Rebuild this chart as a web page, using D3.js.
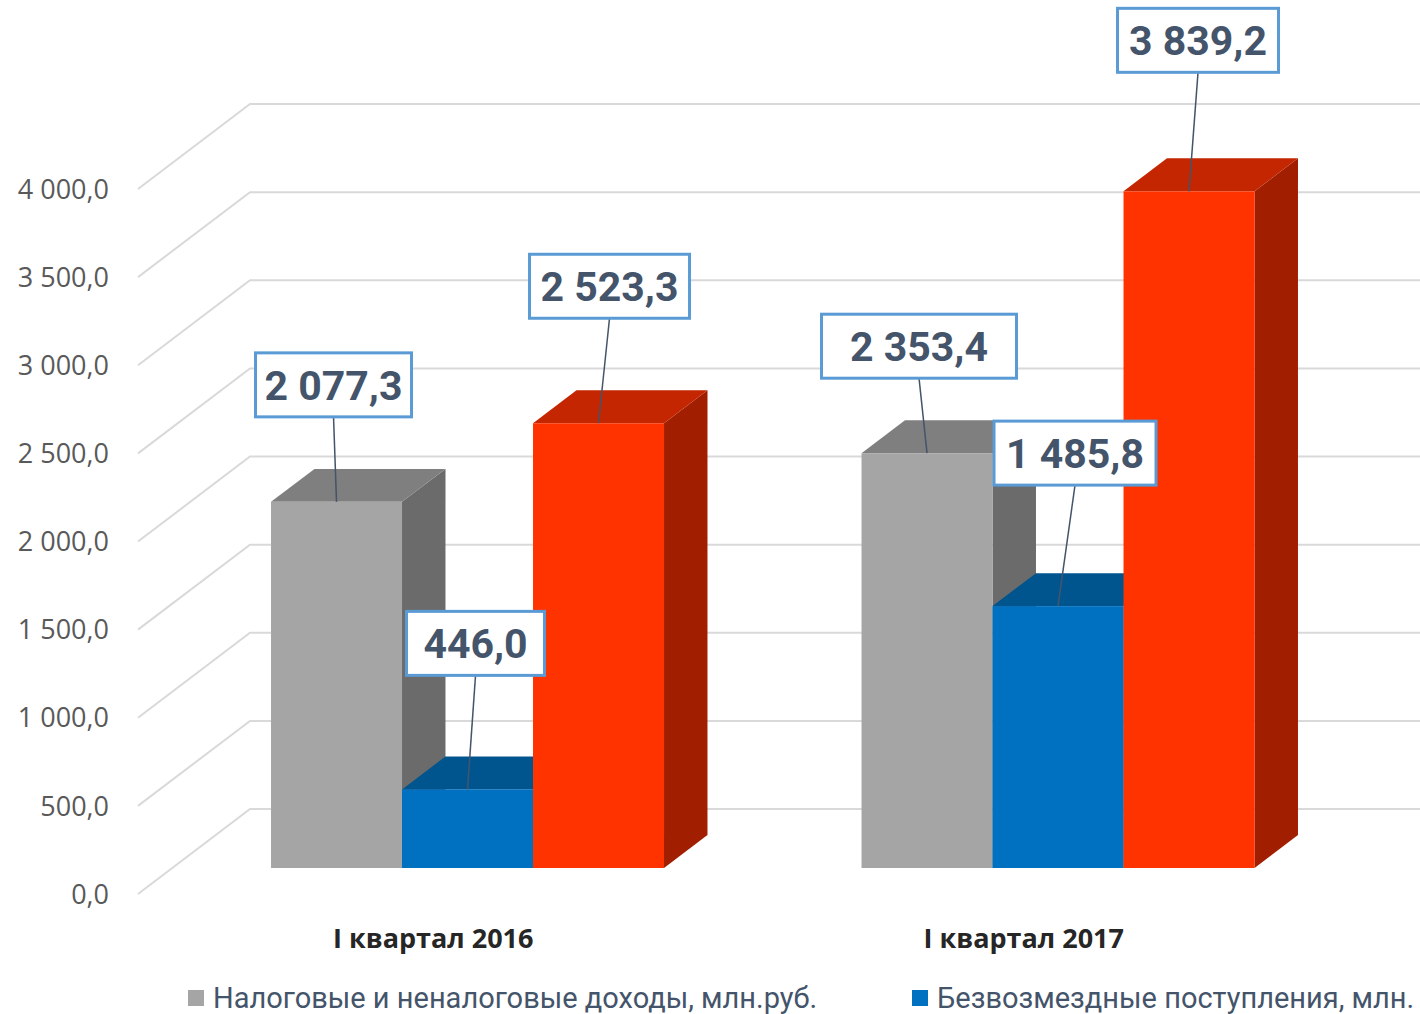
<!DOCTYPE html>
<html>
<head>
<meta charset="utf-8">
<script src="https://cdn.jsdelivr.net/npm/d3@7"></script>
<style>
  body { margin: 0; background: #fff; }
  svg { display: block; }
</style>
</head>
<body>
<div id="chart"></div>
<script>
// data
const categories = ["I квартал 2016", "I квартал 2017"];
const seriesNames = ["Налоговые и неналоговые доходы, млн.руб.", "Безвозмездные поступления, млн.", "Итого доходы, млн.руб."];
const taxIncome = [2077.3, 2353.4];
const grants = [446.0, 1485.8];
const totalIncome = [2523.3, 3839.2];
const yTicks = [0, 500, 1000, 1500, 2000, 2500, 3000, 3500, 4000];

// label box placement relative to the bar top (dx, bottom gap, box width) - layout only
const labelLayout = [
    [[-3, 85, 156], [8, 114, 138], [11, 105, 160]],
    [[-8, 75, 195], [17, 121, 162], [9, 119, 161]]
];

const colors = [
    {front: "#a5a5a5", top: "#7f7f7f", side: "#6b6b6b"},
    {front: "#0070c0", top: "#00558f", side: "#00487a"},
    {front: "#ff3300", top: "#c32600", side: "#a11f00"}
];

const width = 1420, height = 1014;
const depthX = 112, depthY = -85;     // full floor depth
const barD0 = 0.306, barD1 = 0.694;   // bar front/back depth

const svg = d3.select("#chart").append("svg")
    .attr("width", width)
    .attr("height", height);

const y = d3.scaleLinear().domain([0, 4000]).range([894, 189]);

const x = d3.scaleBand().domain(categories).range([138, 1319]);
const xs = d3.scaleBand().domain(d3.range(3)).range([-196.5, 196.5]);

const fmt = v => {
    const s = v.toFixed(1).replace(".", ",");
    const [a, b] = s.split(",");
    return a.replace(/\B(?=(\d{3})+(?!\d))/g, " ") + "," + b;
};

// walls: diagonals on side wall + horizontal lines on back wall
const grid = svg.append("g").attr("stroke", "#d9d9d9").attr("stroke-width", 2).attr("fill", "none");
yTicks.forEach(t => {
    grid.append("path")
        .attr("d", `M${x.range()[0]},${y(t)} L${x.range()[0] + depthX},${y(t) + depthY} L${width + 10},${y(t) + depthY}`);
});

// y axis labels
svg.append("g").selectAll("text")
    .data(yTicks)
    .enter().append("text")
    .attr("x", 109)
    .attr("y", d => y(d))
    .attr("dy", "0.36em")
    .attr("text-anchor", "end")
    .attr("font-family", "'Open Sans', sans-serif")
    .attr("font-size", 27)
    .attr("fill", "#595959")
    .text(d => fmt(d));

// bars
const seriesData = [taxIncome, grants, totalIncome];
const bars = [];
categories.forEach((c, ci) => {
    seriesData.forEach((vals, si) => {
        const v = vals[ci];
        const x0 = x(c) + x.bandwidth() / 2 + xs(si) + barD0 * depthX;
        const x1 = x0 + xs.bandwidth();
        const yb = y(0) + barD0 * depthY;
        const yt = y(v) + barD0 * depthY;
        bars.push({ci, si, v, x0, x1, yb, yt});
    });
});

const dx = (barD1 - barD0) * depthX, dy = (barD1 - barD0) * depthY;
const barG = svg.append("g");
bars.forEach(b => {
    const g = barG.append("g");
    const col = colors[b.si];
    g.append("polygon")
        .attr("points", [[b.x1, b.yt], [b.x1 + dx, b.yt + dy], [b.x1 + dx, b.yb + dy], [b.x1, b.yb]].join(" "))
        .attr("fill", col.side);
    g.append("polygon")
        .attr("points", [[b.x0, b.yt], [b.x1, b.yt], [b.x1 + dx, b.yt + dy], [b.x0 + dx, b.yt + dy]].join(" "))
        .attr("fill", col.top);
    g.append("rect")
        .attr("x", b.x0)
        .attr("y", b.yt)
        .attr("width", b.x1 - b.x0)
        .attr("height", b.yb - b.yt)
        .attr("fill", col.front);
});

// category labels at the front edge of the floor
svg.append("g").selectAll("text")
    .data(categories)
    .enter().append("text")
    .attr("x", d => x(d) + x.bandwidth() / 2)
    .attr("y", 948)
    .attr("text-anchor", "middle")
    .attr("font-family", "'Open Sans', sans-serif")
    .attr("font-weight", "bold")
    .attr("font-size", 27)
    .attr("fill", "#262626")
    .text(d => d);

// data labels with leader lines
const lab = svg.append("g");
bars.forEach(b => {
    const [ox, gap, bw] = labelLayout[b.ci][b.si];
    const cx = (b.x0 + b.x1) / 2;
    const bx = cx + ox;
    const bottom = b.yt - gap;
    const bh = 64;
    lab.append("line")
        .attr("x1", bx).attr("y1", bottom)
        .attr("x2", cx).attr("y2", b.yt)
        .attr("stroke", "#44546a")
        .attr("stroke-width", 1.5);
    lab.append("rect")
        .attr("x", bx - bw / 2)
        .attr("y", bottom - bh)
        .attr("width", bw)
        .attr("height", bh)
        .attr("fill", "#fff")
        .attr("stroke", "#5b9bd5")
        .attr("stroke-width", 3);
    lab.append("text")
        .attr("x", bx)
        .attr("y", bottom - bh / 2)
        .attr("dy", "0.36em")
        .attr("text-anchor", "middle")
        .attr("font-family", "Roboto, sans-serif")
        .attr("font-weight", "bold")
        .attr("font-size", 41)
        .attr("fill", "#44546a")
        .text(fmt(b.v));
});

// legend (the second entry runs up to the right edge as in the original)
const legendItems = [
    {name: seriesNames[0], color: colors[0].front, x: 188},
    {name: seriesNames[1], color: colors[1].front, x: 912}
];
const leg = svg.append("g");
legendItems.forEach(d => {
    leg.append("rect")
        .attr("x", d.x).attr("y", 990)
        .attr("width", 16).attr("height", 16)
        .attr("fill", d.color);
    leg.append("text")
        .attr("x", d.x + 25)
        .attr("y", 1008)
        .attr("font-family", "Roboto, sans-serif")
        .attr("font-size", 29)
        .attr("fill", "#44546a")
        .text(d.name);
});
</script>
</body>
</html>
